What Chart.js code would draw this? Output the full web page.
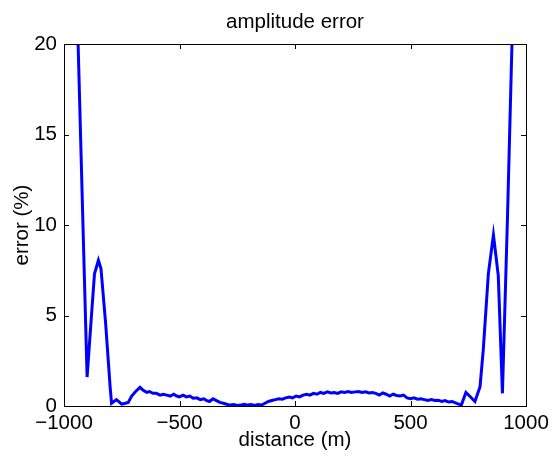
<!DOCTYPE html>
<html>
<head>
<meta charset="utf-8">
<script src="https://cdn.jsdelivr.net/npm/chart.js@4.4.1/dist/chart.umd.min.js"></script>
<style>
  html, body { margin: 0; padding: 0; background: #fff; }
  #wrap { width: 556px; height: 457px; }
</style>
</head>
<body>
<div id="wrap"><canvas id="errChart"></canvas></div>
<script>
// distance (m) and amplitude error (%)
const distance = [
  -960, -940, -920, -900, -880, -868, -851, -840, -820, -800, -794, -773, -750, -735, -722,
  -707, -690, -671, -660, -642, -630, -615, -600, -584, -570, -555, -540, -525, -512, -500,
  -485, -470, -455, -441, -425, -410, -395, -382, -370, -355, -340, -325, -310, -296, -280,
  -265, -250, -235, -220, -205, -190, -175, -160, -145, -130, -115, -100, -85, -70, -55,
  -40, -25, -10, 5, 20, 35, 50, 65, 80, 95, 110, 125, 140, 155, 170,
  185, 200, 215, 230, 245, 260, 275, 290, 305, 320, 335, 350, 365, 380, 395,
  410, 425, 440, 455, 470, 485, 500, 515, 530, 545, 560, 575, 590, 605, 620,
  635, 650, 665, 680, 700, 720, 740, 760, 779, 801, 815, 837, 859, 880, 898,
  920, 940, 960
];
const ampError = [
  29.5, 20.5, 11.0, 1.6, 5.2, 7.3, 8.05, 7.6, 4.6, 1.0, 0.15, 0.35, 0.1, 0.15, 0.2,
  0.55, 0.8, 1.03, 0.9, 0.75, 0.8, 0.7, 0.7, 0.6, 0.65, 0.6, 0.55, 0.65, 0.55, 0.5,
  0.6, 0.5, 0.55, 0.43, 0.45, 0.35, 0.4, 0.3, 0.25, 0.4, 0.3, 0.2, 0.15, 0.1, 0.05,
  0.08, 0.03, 0.05, 0.1, 0.05, 0.08, 0.03, 0.08, 0.05, 0.15, 0.25, 0.3, 0.35, 0.4, 0.38,
  0.45, 0.5, 0.45, 0.55, 0.5, 0.6, 0.65, 0.6, 0.7, 0.65, 0.75, 0.7, 0.78, 0.72, 0.75,
  0.7, 0.78, 0.75, 0.8, 0.75, 0.78, 0.8, 0.75, 0.78, 0.72, 0.75, 0.7, 0.6, 0.72, 0.65,
  0.55, 0.65, 0.58, 0.55, 0.6, 0.45, 0.4, 0.45, 0.38, 0.4, 0.35, 0.3, 0.35, 0.3, 0.32,
  0.25, 0.3, 0.22, 0.25, 0.15, 0.05, 0.75, 0.5, 0.25, 1.07, 3.1, 7.3, 9.45, 7.2, 0.7,
  10.5, 20.4, 30.0
];
const xTicks = [-1000, -500, 0, 500, 1000];
const yTicks = [0, 5, 10, 15, 20];
const chartTitle = 'amplitude error';

const points = distance.map((d, i) => ({ x: d, y: ampError[i] }));
const fontFamily = '"Liberation Sans", Arial, Helvetica, sans-serif';
const fontSize = 20.5;

// matlab-style box with inward ticks on all four sides, title centred over the axes
const boxTicks = {
  id: 'boxTicks',
  afterDraw(chart) {
    const { ctx, chartArea: a, scales } = chart;
    const len = 5;
    ctx.save();
    ctx.strokeStyle = '#000';
    ctx.lineWidth = 1;
    ctx.beginPath();
    xTicks.forEach(v => {
      const px = Math.round(scales.x.getPixelForValue(v)) + 0.5;
      ctx.moveTo(px, a.bottom); ctx.lineTo(px, a.bottom - len);
      ctx.moveTo(px, a.top); ctx.lineTo(px, a.top + len);
    });
    yTicks.forEach(v => {
      const py = Math.round(scales.y.getPixelForValue(v)) + 0.5;
      ctx.moveTo(a.left, py); ctx.lineTo(a.left + len, py);
      ctx.moveTo(a.right, py); ctx.lineTo(a.right - len, py);
    });
    ctx.stroke();
    ctx.strokeRect(Math.round(a.left) + 0.5, Math.round(a.top) + 0.5,
      Math.round(a.right - a.left), Math.round(a.bottom - a.top));

    ctx.fillStyle = '#000';
    ctx.font = fontSize + 'px ' + fontFamily;
    ctx.textAlign = 'center';
    ctx.textBaseline = 'alphabetic';
    ctx.fillText(chartTitle, (a.left + a.right) / 2, 28);
    ctx.restore();
  }
};

new Chart(document.getElementById('errChart'), {
  type: 'line',
  data: {
    datasets: [{
      data: points,
      borderColor: '#0000ff',
      borderWidth: 3,
      pointRadius: 0,
      tension: 0,
      fill: false
    }]
  },
  options: {
    responsive: true,
    maintainAspectRatio: false,
    animation: false,
    layout: { padding: { left: 0, right: 30, top: 44, bottom: 0 } },
    plugins: {
      legend: { display: false },
      tooltip: { enabled: false },
      title: { display: false }
    },
    scales: {
      x: {
        type: 'linear',
        min: -1000,
        max: 1000,
        afterFit(scale) { scale.height = 51; },
        afterBuildTicks(scale) { scale.ticks = xTicks.map(v => ({ value: v })); },
        grid: { display: false, drawTicks: false },
        border: { display: false },
        ticks: {
          color: '#000',
          padding: 5,
          maxRotation: 0,
          font: { family: fontFamily, size: fontSize },
          callback: v => String(v).replace('-', '\u2212')
        },
        title: {
          display: true,
          text: 'distance (m)',
          color: '#000',
          font: { family: fontFamily, size: fontSize, lineHeight: 1.2 },
          padding: { top: 0, bottom: 4 }
        }
      },
      y: {
        type: 'linear',
        min: 0,
        max: 20,
        afterFit(scale) { scale.width = 64; },
        afterBuildTicks(scale) { scale.ticks = yTicks.map(v => ({ value: v })); },
        grid: { display: false, drawTicks: false },
        border: { display: false },
        ticks: {
          color: '#000',
          padding: 7,
          font: { family: fontFamily, size: fontSize }
        },
        title: {
          display: true,
          text: 'error (%)',
          color: '#000',
          font: { family: fontFamily, size: fontSize, lineHeight: 1.2 },
          padding: { top: 10, bottom: 0 }
        }
      }
    }
  },
  plugins: [boxTicks]
});
</script>
</body>
</html>
